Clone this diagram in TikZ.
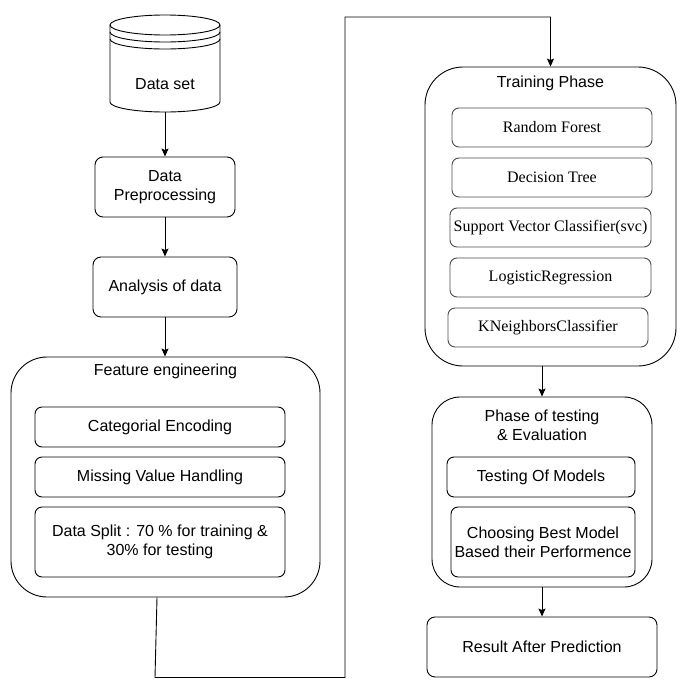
\documentclass[tikz,border=0pt]{standalone}
\usepackage{fontspec}
\setmainfont{Liberation Sans}
\newfontfamily\timesfont{Liberation Serif}
\usepackage{tikz}
\usetikzlibrary{arrows.meta}

\begin{document}
\begin{tikzpicture}[x=1pt,y=-1pt,line width=0.9pt]
        \tikzstyle{every node}=[font=\fontsize{16}{19}\selectfont,align=center,inner sep=0pt]
        \tikzstyle{box}=[draw,rounded corners=8pt,minimum height=60pt]
        \tikzstyle{small}=[draw,rounded corners=7pt,minimum height=40pt,minimum width=250pt]
        \tikzstyle{model}=[draw=black!70,rounded corners=7pt,minimum height=39pt,minimum width=200pt,font=\timesfont\fontsize{16}{19}\selectfont]
        \tikzstyle{phase}=[draw,rounded corners=36pt]
        \tikzstyle{arrow}=[-{Stealth[length=8pt,width=7pt,inset=1.5pt]}]
            \useasboundingbox (0,0) rectangle (686,696);

            % data set cylinder
            \draw (110,25) -- (110,102) arc[start angle=180,end angle=360,x radius=55pt,y radius=10pt] -- (220,25);
            \draw (165,25) ellipse [x radius=55pt,y radius=10pt];
            \draw (110,32) arc[start angle=180,end angle=360,x radius=55pt,y radius=10pt];
            \draw (110,39) arc[start angle=180,end angle=360,x radius=55pt,y radius=10pt];
            \node (dataset) at (165,84) [minimum width=110pt,minimum height=56pt] {Data set};

            \node[box,minimum width=140pt] (prep) at (165,187) {Data\\Preprocessing};
            \node[box,minimum width=144pt] (analysis) at (165,287) {Analysis of data};

            % feature engineering
            \node[phase,minimum width=309pt,minimum height=240pt] (feat) at (165.5,477) {};
            \node (feattitle) at (165.5,371) {Feature engineering};
            \node[small] (encoding) at (160,427) {Categorial Encoding};
            \node[small] (missing) at (160,477) {Missing Value Handling};
            \node[small,minimum height=70pt] (split) at (160,542) {Data Split : 70 \% for training \&\\30\% for testing};

            % training
            \node[phase,rounded corners=38pt,minimum width=251pt,minimum height=299pt] (train) at (550.5,216.5) {};
            \node (traintitle) at (550.5,83) {Training Phase};
            \node[model] (rf) at (552,127.5) {Random Forest};
            \node[model] (dt) at (552,177.5) {Decision Tree};
            \node[model,minimum width=201pt] (svc) at (550.5,227.5) {Support Vector Classifier(svc)};
            \node[model,minimum width=201pt] (lr) at (550.5,277.5) {LogisticRegression};
            \node[model] (knn) at (548,327.5) {KNeighborsClassifier};

            % testing
            \node[phase,rounded corners=28pt,minimum width=220pt,minimum height=190pt] (test) at (542,492) {};
            \node (testtitle) at (542,425) {Phase of testing\\\& Evaluation};
            \node[small,minimum width=188pt] (testing) at (541,477) {Testing Of Models};
            \node[small,minimum width=184pt,minimum height=70pt] (choose) at (543,542) {Choosing Best Model\\Based their Performence};

            \node[box,minimum width=230pt] (result) at (542,647) {Result After Prediction};

            \coordinate (turn) at (345,17);

            \draw[arrow] (dataset) -- (prep);
            \draw[arrow] (prep) -- (analysis);
            \draw[arrow] (analysis.south) -- (analysis.south |- feat.north);
            \draw[arrow] ([xshift=-8.5pt]feat.south) -- ++(-2,80) -| (turn) -| (train.north);
            \draw[arrow] (test.north |- train.south) -- (test.north);
            \draw[arrow] (test) -- (result);
        \end{tikzpicture}
\end{document}
